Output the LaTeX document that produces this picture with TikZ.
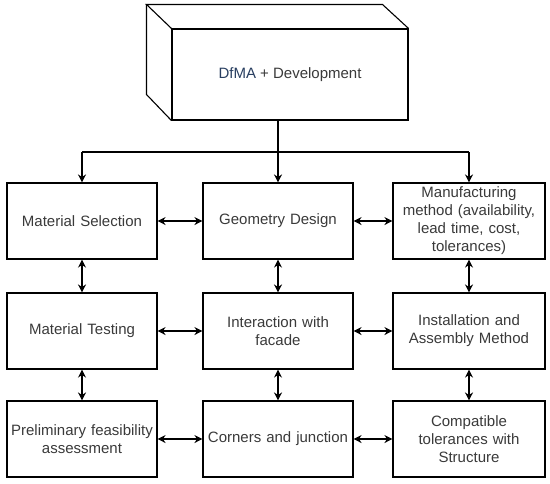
\documentclass[tikz,border=0pt]{standalone}
\usepackage{fontspec}
\setmainfont{Liberation Sans}
\usetikzlibrary{arrows.meta}
\definecolor{txt}{RGB}{58,58,58}
\definecolor{dfma}{RGB}{40,62,96}
\tikzset{
  box/.style={draw=black, line width=1.1pt, rectangle, minimum width=150pt, minimum height=76pt,
    inner sep=2pt, align=center, text=txt, font=\fontsize{15}{18}\selectfont, text width=146pt},
  arr/.style={line width=1.1pt, -{Stealth[length=8pt,width=8pt]}},
  darr/.style={line width=1.1pt, {Stealth[length=8pt,width=8pt]}-{Stealth[length=8pt,width=8pt]}},
  ln/.style={line width=1.1pt}
}
\begin{document}
\begin{tikzpicture}[x=1pt,y=-1pt]
\useasboundingbox (0,0) rectangle (550,483);
\fill[white] (0,0) rectangle (550,483);
% cube
\node[draw=black, line width=1.1pt, minimum width=236pt, minimum height=91pt, inner sep=0pt,
  text=txt, font=\fontsize{15}{18}\selectfont] (dev) at (290,74.5) {\textcolor{dfma}{DfMA} + Development};
\draw[ln, line join=miter] (dev.north west) -- ++(-25,-24) coordinate (btl) -- ++(236,0) -- (dev.north east);
\draw[ln] (btl) -- ++(0,90) -- (dev.south west);
% boxes
\node[box] (ms) at (82,221) {Material Selection};
\node[box] (gd) at (278,221) {Geometry Design};
\node[box, minimum width=152pt] (mm) at (469,221) {Manufacturing\\method (availability,\\lead time, cost,\\tolerances)};
\node[box] (mt) at (82,331) {Material Testing};
\node[box] (if) at (278,331) {Interaction with\\facade};
\node[box, minimum width=152pt] (ia) at (469,331) {Installation and\\Assembly Method};
\node[box] (pf) at (82,439) {Preliminary feasibility\\assessment};
\node[box] (cj) at (278,439) {Corners and junction};
\node[box, minimum width=152pt] (ct) at (469,439) {Compatible\\tolerances with\\Structure};
% trunk
\coordinate (tr) at (278,152);
\coordinate (hl) at (82,152);
\coordinate (hr) at (469,152);
\draw[ln] (dev.south -| tr) -- (tr);
\draw[ln, line join=miter] (hl) -- (hr);
\draw[arr] (hl) -- (ms.north);
\draw[arr] (tr) -- (gd.north);
\draw[arr] (hr) -- (mm.north);
% horizontal links
\draw[darr] (ms) -- (gd);
\draw[darr] (gd) -- (mm);
\draw[darr] (mt) -- (if);
\draw[darr] (if) -- (ia);
\draw[darr] (pf) -- (cj);
\draw[darr] (cj) -- (ct);
% vertical links
\draw[darr] (ms) -- (mt);
\draw[darr] (mt) -- (pf);
\draw[darr] (gd) -- (if);
\draw[darr] (if) -- (cj);
\draw[darr] (mm) -- (ia);
\draw[darr] (ia) -- (ct);
\end{tikzpicture}
\end{document}
